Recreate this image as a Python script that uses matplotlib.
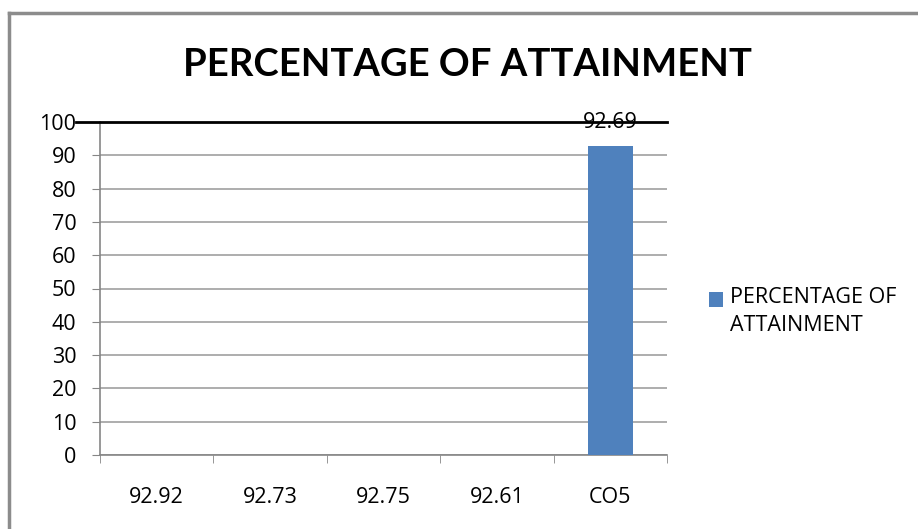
import numpy as np
import matplotlib
matplotlib.use('Agg')
import matplotlib.pyplot as plt
from matplotlib.lines import Line2D
from matplotlib.patches import Rectangle

categories = ['92.92', '92.73', '92.75', '92.61', 'CO5']
values = [0, 0, 0, 0, 92.69]
labels = [None, None, None, None, '92.69']
series_name = 'PERCENTAGE OF\nATTAINMENT'
chart_title = 'PERCENTAGE OF ATTAINMENT'
yticks = list(range(0, 101, 10))

plt.rcParams['font.family'] = ['Open Sans', 'DejaVu Sans']

fig = plt.figure(figsize=(9.18, 5.29), dpi=100)
ax = fig.add_axes([100 / 918, 1 - 455 / 529, 567 / 918, 333 / 529])

x = np.arange(len(categories))
bars = ax.bar(x, values, width=0.4, color='#4F81BD', zorder=3)
for b, lab in zip(bars, labels):
    if lab:
        ax.annotate(lab, xy=(b.get_x() + b.get_width() / 2, b.get_height()),
                    xytext=(0, 18), textcoords='offset pixels',
                    ha='center', va='baseline', fontsize=15.5, zorder=5)

ax.set_xlim(-0.5, len(categories) - 0.5)
ax.set_ylim(0, 100)
ax.set_yticks(yticks)
ax.set_yticklabels([str(t) for t in yticks], fontsize=15.5)
ax.set_xticks(x)
ax.set_xticklabels(categories, fontsize=15.5)
ax.set_xticks(np.arange(len(categories) + 1) - 0.5, minor=True)
ax.tick_params(axis='x', which='major', length=0, pad=23)
ax.tick_params(axis='x', which='minor', length=6, color='#868686', direction='out')
ax.tick_params(axis='y', length=6, color='#868686', direction='out', pad=11)

ax.grid(axis='y', color='#a0a0a0', linewidth=1.2, zorder=0)
for s in ['top', 'right']:
    ax.spines[s].set_visible(False)
for s in ['left', 'bottom']:
    ax.spines[s].set_color('#868686')
    ax.spines[s].set_linewidth(1.2)

# black line along 100, running into the tick label area
ax.add_line(Line2D([-24 / 567, 1.0], [1.0, 1.0], transform=ax.transAxes,
                   color='black', linewidth=2, clip_on=False, zorder=4))

fig.text(467 / 918, 1 - 65 / 529, chart_title, fontsize=27.5, fontweight='bold',
         family=['Lato', 'DejaVu Sans'], ha='center', va='center')

# legend
fig.patches.append(Rectangle((709 / 918, 1 - 307 / 529), 14 / 918, 15 / 529,
                             transform=fig.transFigure, facecolor='#4F81BD',
                             edgecolor='none'))
fig.text(730 / 918, 1 - 287 / 529, series_name, fontsize=15.5, ha='left', va='top',
         linespacing=1.45)

# chart border
fig.add_artist(Line2D([9 / 918, 1.0], [1 - 13 / 529, 1 - 13 / 529],
                      transform=fig.transFigure, color='#8c8c8c', linewidth=2.5))
fig.add_artist(Line2D([9 / 918, 9 / 918], [0, 1 - 13 / 529],
                      transform=fig.transFigure, color='#8c8c8c', linewidth=2.5))

fig.savefig('out.png', dpi=100)
